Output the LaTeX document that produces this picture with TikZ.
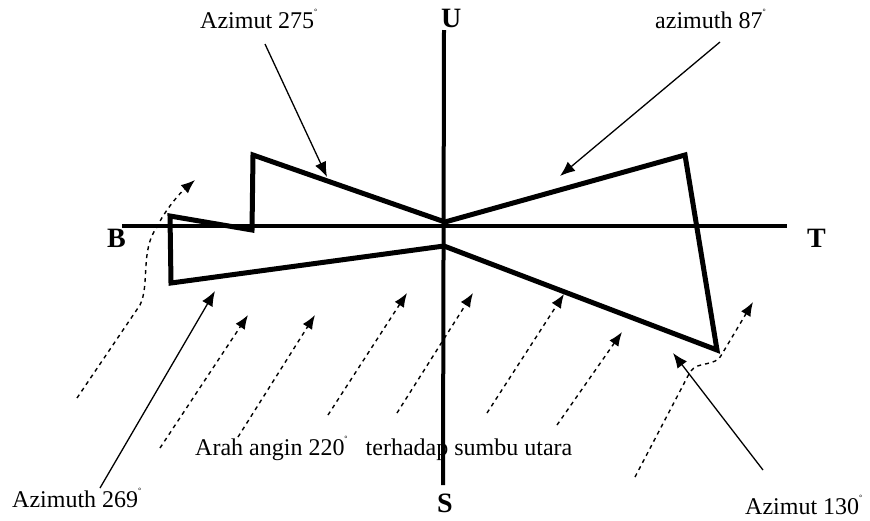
\documentclass[tikz,border=0pt]{standalone}
\usepackage{fontspec}
\setmainfont{Liberation Serif}
\usetikzlibrary{arrows.meta}
\newcommand\degmark{\raisebox{0.55em}{\fontsize{8}{8}\selectfont °}}
\begin{document}
\begin{tikzpicture}[x=1pt,y=-1pt,
 lbl/.style={font=\fontsize{24}{28}\selectfont, inner sep=0pt, anchor=base west},
 axlbl/.style={font=\fontsize{28}{32}\selectfont\bfseries, inner sep=0pt, anchor=base west},
 axisline/.style={line width=4pt},
 outline/.style={line width=5pt, line join=miter},
 callout/.style={line width=1.3pt, -{Latex[length=15pt,width=12pt]}},
 wind/.style={line width=1.4pt, dash pattern=on 4pt off 4pt, -{Latex[length=14pt,width=11pt]}}]
\useasboundingbox (0,0) rectangle (870,520);
% axes
\coordinate (Ntop) at (444,30);
\coordinate (Sbot) at (443,485);
\coordinate (Wl) at (122,226);
\coordinate (Er) at (787,226);
\draw[axisline] (Ntop) -- (Sbot);
\draw[axisline] (Wl) -- (Er);
\node[axlbl] (U) at (441,27) {U};
\node[axlbl] (S) at (437,512) {S};
\node[axlbl] (B) at (107,247) {B};
\node[axlbl] (T) at (807,247) {T};
% outline
\coordinate (P1) at (445,222);
\coordinate (P2) at (253,155);
\coordinate (P3) at (252,230);
\coordinate (P4) at (170,216);
\coordinate (P5) at (171,283);
\coordinate (P6) at (444,246);
\coordinate (P7) at (717,350);
\coordinate (P8) at (685,155);
\draw[outline] (P1) -- (P2) -- (P3) -- (P4) -- (P5) -- (P6) -- (P7) -- (P8) -- cycle;
% labels
\node[lbl] (l275) at (200,28) {Azimut 275\degmark};
\node[lbl] (l87) at (655,28) {azimuth 87\degmark};
\node[lbl] (l269) at (12,507) {Azimuth 269\degmark};
\node[lbl] (l130) at (745,514) {Azimut 130\degmark};
\node[lbl] (wtxt) at (195,455) {Arah angin 220\degmark\hspace{18pt}terhadap sumbu utara};
% callouts
\coordinate (c275s) at (265,44);
\coordinate (c275t) at (327,177);
\coordinate (c87s) at (720,42);
\coordinate (c87t) at (560,176);
\coordinate (c269s) at (100,488);
\coordinate (c269t) at (215,291);
\coordinate (c130s) at (763,470);
\coordinate (c130t) at (673,353);
\draw[callout] (c275s) -- (c275t);
\draw[callout] (c87s) -- (c87t);
\draw[callout] (c269s) -- (c269t);
\draw[callout] (c130s) -- (c130t);
% wind arrows
\coordinate (wa0) at (77,398);
\coordinate (wa1) at (140,305);
\coordinate (wa2) at (157,227);
\coordinate (wa3) at (195,180);
\draw[wind] (wa0) -- (wa1) .. controls (150,285) and (140,250) .. (wa2) .. controls (165,210) and (180,193) .. (wa3);
\coordinate (wb0) at (160,448); \coordinate (wb1) at (248,315);
\coordinate (wc0) at (238,437); \coordinate (wc1) at (315,315);
\coordinate (wd0) at (328,415); \coordinate (wd1) at (407,293);
\coordinate (we0) at (397,413); \coordinate (we1) at (473,293);
\coordinate (wf0) at (487,413); \coordinate (wf1) at (564,294);
\coordinate (wg0) at (557,425); \coordinate (wg1) at (622,332);
\draw[wind] (wb0) -- (wb1);
\draw[wind] (wc0) -- (wc1);
\draw[wind] (wd0) -- (wd1);
\draw[wind] (we0) -- (we1);
\draw[wind] (wf0) -- (wf1);
\draw[wind] (wg0) -- (wg1);
\coordinate (wh0) at (635,477);
\coordinate (wh1) at (690,372);
\coordinate (wh2) at (722,354);
\coordinate (wh3) at (753,302);
\draw[wind] (wh0) -- (wh1) .. controls (698,360) and (715,368) .. (wh2) -- (wh3);
\end{tikzpicture}
\end{document}
